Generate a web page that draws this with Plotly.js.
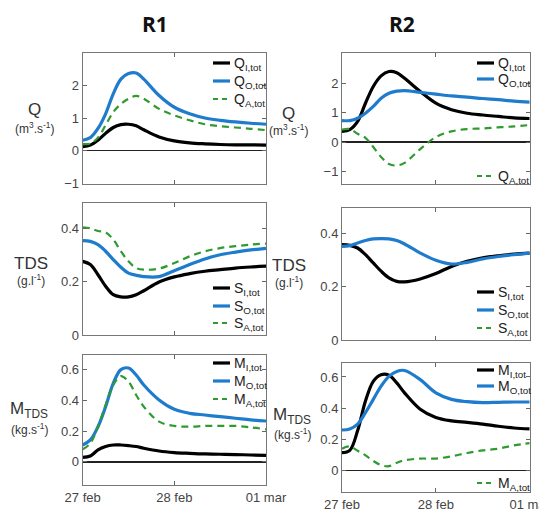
<!DOCTYPE html>
<html><head><meta charset="utf-8">
<script src="https://cdn.plot.ly/plotly-3.0.1.min.js"></script>
<style>html,body{margin:0;padding:0;background:#fff}#chart{width:539px;height:510px}</style>
</head><body><div id="chart"></div>
<script>
// ---- data ----
const times = ['2017-02-27 00:00','2017-02-27 02:00','2017-02-27 04:00','2017-02-27 06:00','2017-02-27 08:00','2017-02-27 10:00','2017-02-27 12:00','2017-02-27 14:00','2017-02-27 16:00','2017-02-27 20:00','2017-02-28 00:00','2017-02-28 04:00','2017-02-28 08:00','2017-02-28 12:00','2017-02-28 16:00','2017-02-28 20:00','2017-03-01 00:00'];
const tickVals = ['2017-02-27','2017-02-28','2017-03-01'];
const tickText = ['27 feb','28 feb','01 mar'];
const colTitles = ['R1','R2'];

// R1
const qI1 = [0.12,0.17,0.32,0.53,0.71,0.80,0.81,0.76,0.64,0.42,0.30,0.24,0.21,0.19,0.18,0.18,0.17];
const qO1 = [0.32,0.40,0.68,1.13,1.74,2.19,2.36,2.38,2.19,1.69,1.33,1.13,1.00,0.93,0.88,0.84,0.81];
const qA1 = [0.20,0.22,0.40,0.78,1.18,1.43,1.59,1.68,1.59,1.28,1.08,0.93,0.81,0.75,0.71,0.67,0.63];
const sI1 = [0.276,0.264,0.226,0.183,0.151,0.143,0.143,0.151,0.166,0.199,0.218,0.230,0.239,0.245,0.251,0.255,0.258];
const sO1 = [0.354,0.351,0.339,0.314,0.283,0.254,0.232,0.224,0.219,0.219,0.241,0.264,0.285,0.301,0.311,0.319,0.325];
const sA1 = [0.404,0.400,0.390,0.385,0.358,0.314,0.276,0.251,0.245,0.249,0.270,0.295,0.314,0.326,0.333,0.339,0.343];
const mI1 = [0.030,0.039,0.078,0.100,0.110,0.110,0.106,0.100,0.089,0.071,0.061,0.056,0.052,0.050,0.048,0.045,0.043];
const mO1 = [0.110,0.143,0.229,0.359,0.511,0.600,0.610,0.565,0.500,0.403,0.342,0.316,0.305,0.294,0.284,0.273,0.266];
const mA1 = [0.082,0.121,0.229,0.370,0.500,0.558,0.522,0.435,0.359,0.262,0.234,0.229,0.234,0.234,0.234,0.225,0.212];
// R2
const qI2 = [0.36,0.42,0.70,1.32,1.89,2.25,2.40,2.36,2.17,1.72,1.32,1.10,0.98,0.92,0.87,0.82,0.80];
const qO2 = [0.73,0.73,0.81,0.98,1.21,1.49,1.66,1.73,1.75,1.69,1.63,1.57,1.53,1.48,1.44,1.39,1.36];
const qA2 = [0.42,0.44,0.28,0.14,-0.17,-0.51,-0.75,-0.80,-0.71,-0.24,0.17,0.36,0.44,0.46,0.50,0.53,0.58];
const sI2 = [0.358,0.355,0.345,0.320,0.289,0.258,0.233,0.220,0.218,0.229,0.249,0.276,0.295,0.308,0.316,0.322,0.326];
const sO2 = [0.351,0.354,0.364,0.373,0.379,0.380,0.379,0.373,0.360,0.326,0.299,0.285,0.291,0.304,0.313,0.320,0.326];
const mI2 = [0.113,0.128,0.255,0.445,0.572,0.615,0.612,0.562,0.498,0.393,0.340,0.318,0.308,0.297,0.283,0.272,0.266];
const mO2 = [0.259,0.266,0.297,0.371,0.456,0.541,0.604,0.636,0.642,0.583,0.498,0.456,0.441,0.435,0.437,0.439,0.439];
const mA2 = [0.139,0.153,0.125,0.096,0.060,0.033,0.026,0.048,0.064,0.075,0.075,0.090,0.111,0.128,0.139,0.160,0.175];

// ---- styling ----
const W = 539, H = 510;
const C = {I:'#000000', O:'#1f7ccc', A:'#2f9a2f'};
const FONT = 'Liberation Sans, Arial, sans-serif';
const px = x => x / W;
const py = y => 1 - y / H;

function tr(y, key, ax) {
  const dashed = key === 'A';
  return {x: times, y: y, type:'scatter', mode:'lines', xaxis:'x'+ax, yaxis:'y'+ax,
    line:{color:C[key], width: dashed ? 2.2 : 3.2, dash: dashed ? '7px,5px' : 'solid', shape:'spline', smoothing:1},
    hoverinfo:'skip', showlegend:false};
}
const data = [
  tr(qI1,'I',''), tr(qO1,'O',''), tr(qA1,'A',''),
  tr(qI2,'I','2'), tr(qO2,'O','2'), tr(qA2,'A','2'),
  tr(sI1,'I','3'), tr(sO1,'O','3'), tr(sA1,'A','3'),
  tr(sI2,'I','4'), tr(sO2,'O','4'),
  tr(mI1,'I','5'), tr(mO1,'O','5'), tr(mA1,'A','5'),
  tr(mI2,'I','6'), tr(mO2,'O','6'), tr(mA2,'A','6')
];

// panel boxes in pixels: [left, right, top, bottom]
const boxes = [
  [82.7,266,52.7,184], [342,529.7,53.3,184],
  [82.7,266,203,335], [342,529.7,208,340],
  [82.7,266,355,485], [342,529.7,363,492]
];
const yRanges = [[-1.02,3.0],[-1.43,3.02],[0,0.495],[0,0.495],[-0.15,0.695],[-0.14,0.69]];
const yTicks = [[-1,0,1,2],[-1,0,1,2],[0,0.2,0.4],[0,0.2,0.4],[0,0.2,0.4,0.6],[0,0.2,0.4,0.6]];
const zeroL = [true,true,false,false,true,true];

const layout = {width:W, height:H, margin:{l:0,r:0,t:0,b:0}, paper_bgcolor:'#fff', plot_bgcolor:'#fff',
  font:{family:FONT, color:'#333', size:13}, showlegend:false, shapes:[], annotations:[]};

boxes.forEach((b,i) => {
  const s = i === 0 ? '' : String(i+1);
  layout['xaxis'+s] = {domain:[px(b[0]),px(b[1])], anchor:'y'+s, type:'date',
    range:['2017-02-27','2017-03-01'], tickvals:tickVals, ticktext:tickText,
    showticklabels: i >= 4, ticks:'inside', ticklen:4, tickcolor:'#666', mirror:'ticks',
    ticklabeloverflow:'allow',
    showline:true, linecolor:'#777', linewidth:1, showgrid:false, zeroline:false,
    tickfont:{size:13, color:'#444', family:FONT}, fixedrange:true};
  layout['yaxis'+s] = {domain:[py(b[3]),py(b[2])], anchor:'x'+s, range:yRanges[i],
    tickvals:yTicks[i], ticks:'inside', ticklen:4, tickcolor:'#666', mirror:'ticks',
    showline:true, linecolor:'#777', linewidth:1, showgrid:false,
    zeroline:zeroL[i], zerolinecolor:'#222', zerolinewidth:1.2,
    tickfont:{size:13, color:'#444', family:FONT}, fixedrange:true};
});

// column titles
[[155,24],[402,24]].forEach((p,i) => layout.annotations.push({text:'<b>'+colTitles[i]+'</b>',
  xref:'paper', yref:'paper', x:px(p[0]), y:py(p[1]), showarrow:false, xanchor:'center', yanchor:'middle',
  font:{family:'Open Sans, sans-serif', size:21, color:'#111'}}));

// y axis titles
function ylab(t, u, x, y1, y2) {
  layout.annotations.push({text:t, xref:'paper', yref:'paper', x:px(x), y:py(y1), showarrow:false,
    xanchor:'center', yanchor:'middle', font:{size:17, color:'#333', family:FONT}});
  layout.annotations.push({text:u, xref:'paper', yref:'paper', x:px(x), y:py(y2), showarrow:false,
    xanchor:'center', yanchor:'middle', font:{size:12, color:'#333', family:FONT}});
}
ylab('Q','(m<sup>3</sup>.s<sup>-1</sup>)',34,109,128);
ylab('Q','(m<sup>3</sup>.s<sup>-1</sup>)',288,113,130);
ylab('TDS','(g.l<sup>-1</sup>)',31,263,280);
ylab('TDS','(g.l<sup>-1</sup>)',289,265,282);
ylab('M<sub>TDS</sub>','(kg.s<sup>-1</sup>)',29,410,429);
ylab('M<sub>TDS</sub>','(kg.s<sup>-1</sup>)',292,416,434);

// manual legends
function leg(sym, sub, key, xl, y) {
  const dashed = key === 'A';
  layout.shapes.push({type:'line', xref:'paper', yref:'paper', x0:px(xl), x1:px(xl+17), y0:py(y), y1:py(y),
    line:{color:C[key], width: dashed ? 2.2 : 3.2, dash: dashed ? '5px,4px' : 'solid'}});
  layout.annotations.push({text:sym+'<sub>'+sub+'</sub>', xref:'paper', yref:'paper', x:px(xl+19), y:py(y+1),
    showarrow:false, xanchor:'left', yanchor:'middle', font:{size:14, color:'#222', family:FONT}});
}
leg('Q','I,tot','I',213,63); leg('Q','O,tot','O',213,81); leg('Q','A,tot','A',213,99);
leg('Q','I,tot','I',477,63); leg('Q','O,tot','O',477,79); leg('Q','A,tot','A',477,176);
leg('S','I,tot','I',213,288); leg('S','O,tot','O',213,306); leg('S','A,tot','A',213,323);
leg('S','I,tot','I',477,292); leg('S','O,tot','O',477,310); leg('S','A,tot','A',477,328);
leg('M','I,tot','I',213,363); leg('M','O,tot','O',213,381); leg('M','A,tot','A',213,399);
leg('M','I,tot','I',477,370); leg('M','O,tot','O',477,386); leg('M','A,tot','A',477,483);

Plotly.newPlot('chart', data, layout, {displayModeBar:false, staticPlot:true});
</script></body></html>
